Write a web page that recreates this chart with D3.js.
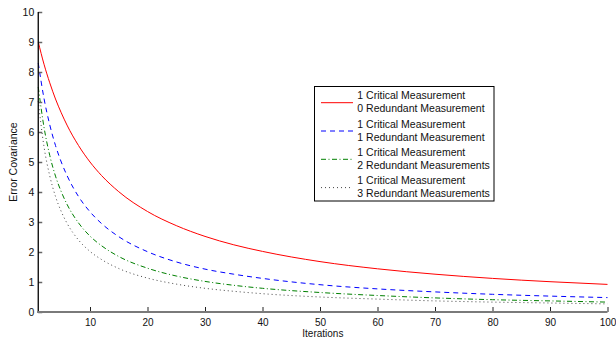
<!DOCTYPE html>
<html>
<head>
<meta charset="utf-8">
<script src="https://cdn.jsdelivr.net/npm/d3@7"></script>
<style>
  html, body { margin: 0; padding: 0; background: #fff; }
  svg { display: block; font-family: "Liberation Sans", Arial, Helvetica, sans-serif; }
</style>
</head>
<body>
<svg id="chart" width="616" height="339"></svg>
<script>
const iterations = [1, 2, 3, 4, 5, 6, 8, 10, 12, 15, 20, 25, 30, 35, 40, 50, 60, 70, 80, 90, 100];
const red0 = [9.00, 8.26, 7.64, 7.10, 6.64, 6.23, 5.55, 5.00, 4.55, 4.01, 3.35, 2.88, 2.52, 2.24, 2.02, 1.68, 1.44, 1.26, 1.12, 1.01, 0.92];
const blue1 = [8.30, 7.12, 6.24, 5.55, 5.00, 4.55, 3.85, 3.34, 2.95, 2.51, 2.01, 1.67, 1.43, 1.26, 1.12, 0.91, 0.77, 0.67, 0.59, 0.53, 0.48];
const green2 = [7.50, 6.16, 5.22, 4.53, 4.01, 3.59, 2.97, 2.53, 2.21, 1.85, 1.46, 1.20, 1.02, 0.89, 0.79, 0.65, 0.55, 0.47, 0.41, 0.37, 0.33];
const gray3 = [7.03, 5.51, 4.54, 3.85, 3.35, 2.96, 2.40, 2.02, 1.75, 1.45, 1.13, 0.93, 0.79, 0.69, 0.61, 0.50, 0.43, 0.37, 0.33, 0.30, 0.27];

const xTicks = [10, 20, 30, 40, 50, 60, 70, 80, 90, 100];
const yTicks = [0, 1, 2, 3, 4, 5, 6, 7, 8, 9, 10];
const legendLines = [
  ["1 Critical Measurement", "0 Redundant Measurement"],
  ["1 Critical Measurement", "1 Redundant Measurement"],
  ["1 Critical Measurement", "2 Redundant Measurements"],
  ["1 Critical Measurement", "3 Redundant Measurements"]
];
const xLabel = "Iterations";
const yLabel = "Error Covariance";

const seriesStyles = [
  { values: red0,   color: "#ff0000", dash: null,          width: 1 },
  { values: blue1,  color: "#0000ff", dash: "5,4",         width: 1 },
  { values: green2, color: "#008000", dash: "5,2.5,1,2.5", width: 1 },
  { values: gray3,  color: "#444444", dash: "1,3",         width: 1 }
];

const FS = 10.5;
const TFS = 10;
const svg = d3.select("#chart");
const x = d3.scaleLinear().domain([1, 100]).range([38.25, 607.5]);
const y = d3.scaleLinear().domain([0, 10]).range([312, 12]);

// Series
const line = d3.line()
  .x((d, i) => x(iterations[i]))
  .y(d => y(d))
  .curve(d3.curveMonotoneX);

seriesStyles.forEach(s => {
  svg.append("path")
    .datum(s.values)
    .attr("d", line)
    .attr("fill", "none")
    .attr("stroke", s.color)
    .attr("stroke-width", s.width)
    .attr("stroke-dasharray", s.dash);
});

// Y axis (left, ticks inward)
const yAxis = svg.append("g").attr("transform", `translate(${x(1)},0)`)
  .call(d3.axisRight(y).tickValues(yTicks).tickSize(4).tickFormat(d3.format("d")));
yAxis.select(".domain").remove();
yAxis.selectAll(".tick line").attr("stroke", "#666").attr("stroke-width", 1.5);
yAxis.selectAll(".tick text")
  .attr("x", -4).attr("text-anchor", "end").attr("dy", "0.35em")
  .attr("font-size", FS).attr("fill", "#111")
  .style("font-family", '"Liberation Sans", Arial, sans-serif');
svg.append("line")
  .attr("x1", x(1)).attr("x2", x(1)).attr("y1", y(10)).attr("y2", y(0) + 1)
  .attr("stroke", "#000").attr("stroke-width", 1.3);

// X axis (bottom, ticks inward)
const xAxis = svg.append("g").attr("transform", `translate(0,${y(0)})`)
  .call(d3.axisTop(x).tickValues(xTicks).tickSize(5).tickFormat(d3.format("d")));
xAxis.select(".domain").remove();
xAxis.selectAll(".tick line").attr("stroke", "#222").attr("stroke-width", 1);
xAxis.selectAll(".tick text")
  .attr("y", 14.3).attr("dy", 0).attr("text-anchor", "middle")
  .attr("font-size", TFS).attr("fill", "#111")
  .style("font-family", '"Liberation Sans", Arial, sans-serif');
svg.append("line")
  .attr("x1", x(1) - 1).attr("x2", x(100)).attr("y1", y(0)).attr("y2", y(0))
  .attr("stroke", "#7a7a7a").attr("stroke-width", 2);

// Axis labels
svg.append("text")
  .attr("x", x(50.5)).attr("y", 337.3)
  .attr("text-anchor", "middle").attr("font-size", TFS).attr("fill", "#111")
  .text(xLabel);
svg.append("text")
  .attr("transform", `translate(17,${(y(0) + y(10)) / 2}) rotate(-90)`)
  .attr("text-anchor", "middle").attr("font-size", FS).attr("fill", "#111")
  .text(yLabel);

// Legend
const lg = svg.append("g");
lg.append("rect")
  .attr("x", 314.5).attr("y", 86.5).attr("width", 179.5).attr("height", 114.5)
  .attr("fill", "#fff").attr("stroke", "#000").attr("stroke-width", 1);
legendLines.forEach((lines, i) => {
  const cy = 102.7 + i * 28.3;
  const s = seriesStyles[i];
  lg.append("line")
    .attr("x1", 321).attr("x2", 353).attr("y1", cy).attr("y2", cy)
    .attr("stroke", s.color).attr("stroke-width", s.width)
    .attr("stroke-dasharray", s.dash);
  lines.forEach((t, j) => {
    lg.append("text")
      .attr("x", 357.3).attr("y", cy - 3.4 + j * 13)
      .attr("font-size", FS).attr("fill", "#111")
      .text(t);
  });
});
</script>
</body>
</html>
